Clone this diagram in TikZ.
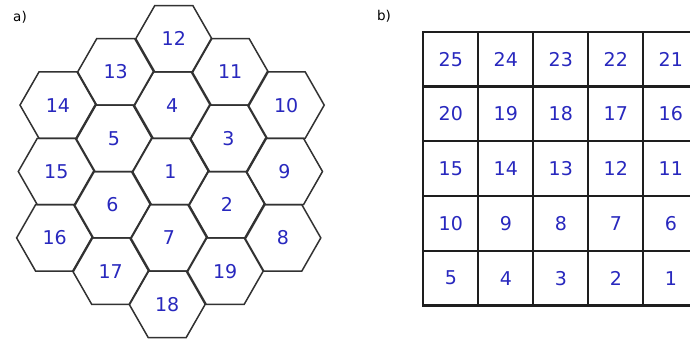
\documentclass[tikz,border=0pt]{standalone}
\usepackage{fontspec}
\setmainfont{DejaVu Sans}
\definecolor{numblue}{RGB}{40,40,190}
\definecolor{hexgray}{RGB}{50,50,50}
\definecolor{gridgray}{RGB}{30,30,30}
\begin{document}
\begin{tikzpicture}[x=1pt,y=-1pt,
  hexlab/.style={inner sep=0pt, text=numblue, font=\fontsize{19}{19}\selectfont},
  hexline/.style={draw=hexgray, line width=1.5pt, line join=miter},
  sqcell/.style={rectangle, draw=gridgray, line width=2.3pt, minimum width=55pt, minimum height=54.75pt, inner sep=0pt, outer sep=0pt, text=numblue, font=\fontsize{19}{19}\selectfont},
  caption/.style={inner sep=0pt, text=black, font=\fontsize{13.5}{13.5}\selectfont}]
\useasboundingbox (0,0) rectangle (690,343);
\clip (0,0) rectangle (690,343);
\fill[white] (0,0) rectangle (690,343);
% captions
\node[caption] (capa) at (20,17) {a)};
\node[caption] (capb) at (384,16) {b)};
% hexagons
\foreach \lab/\px/\py in {
  12/173.8/38.7, 4/172.2/105.1, 1/170.5/171.5, 7/168.8/237.9, 18/167.2/304.3,
  13/115.7/71.9, 5/114.0/138.3, 6/112.4/204.7, 17/110.7/271.1,
  11/230.2/71.9, 3/228.5/138.3, 2/226.9/204.7, 19/225.2/271.1,
  14/58.0/105.1, 15/56.3/171.5, 16/54.6/237.9,
  10/286.2/105.1, 9/284.5/171.5, 8/282.8/237.9}{
  \node[hexlab] (h\lab) at (\px,\py) {\lab};
  \draw[hexline, shift={(h\lab.center)}] (-38,0) -- (-19,-33.2) -- (19,-33.2) -- (38,0) -- (19,33.2) -- (-19,33.2) -- cycle;
}
% square grid
\foreach \r in {0,...,4}{
  \foreach \c in {0,...,4}{
    \pgfmathtruncatemacro{\num}{25-5*\r-\c}
    \node[sqcell] (s\num) at ({450.8+55*\c},{59.1+54.75*\r}) {\num};
  }
}
\end{tikzpicture}
\end{document}
